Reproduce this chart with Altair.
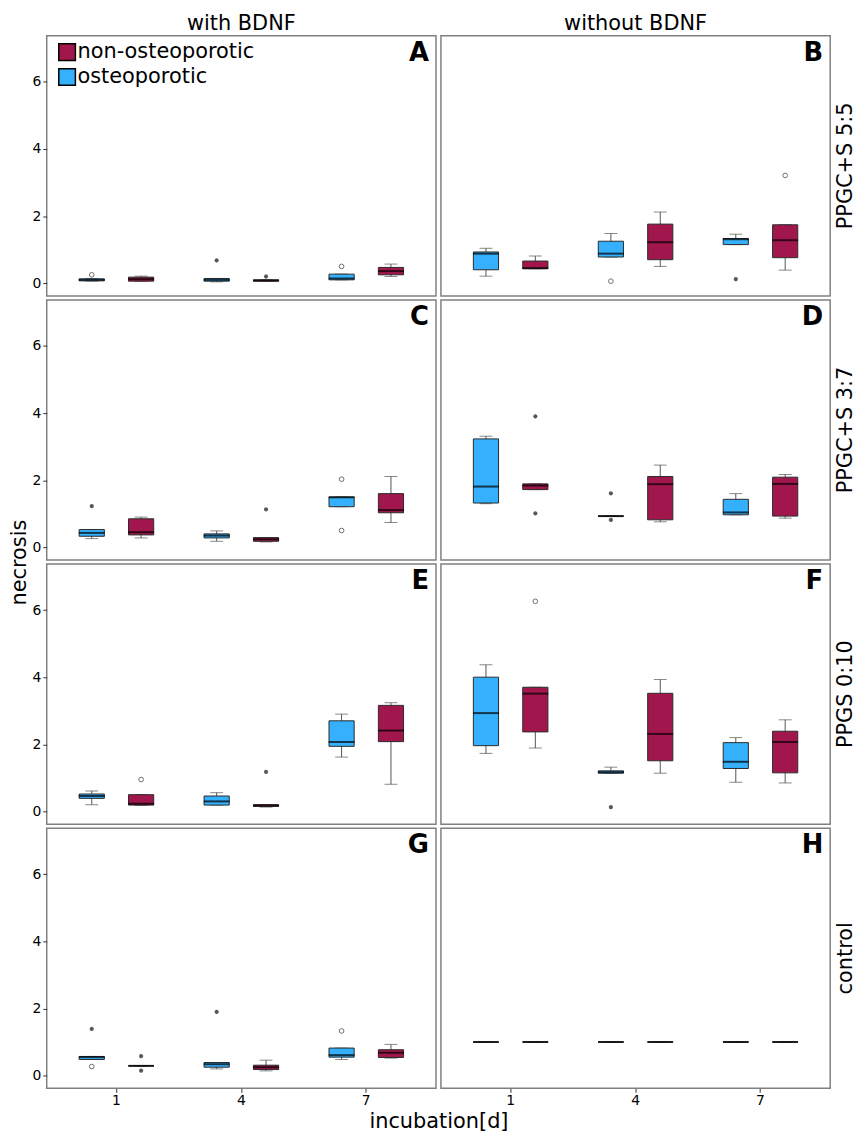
import altair as alt
import pandas as pd

ROWS = ["PPGC+S 5:5", "PPGC+S 3:7", "PPGS 0:10", "control"]
COLS = ["with BDNF", "without BDNF"]
PANELS = ["A", "B", "C", "D", "E", "F", "G", "H"]
DAYS = ["1", "4", "7"]
GROUPS = ["osteoporotic", "non-osteoporotic"]
LEGEND_ORDER = ["non-osteoporotic", "osteoporotic"]
COLORS = ["#a1174d", "#35b0fc"]
Y_TICKS = [0, 2, 4, 6]

# order of the six boxes per panel: d1-osteo, d1-non, d4-osteo, d4-non, d7-osteo, d7-non
LO = {
    "A": [0.06, 0.06, 0.04, 0.06, 0.10, 0.20],
    "B": [0.21, 0.43, 0.78, 0.50, 1.15, 0.39],
    "C": [0.26, 0.28, 0.18, 0.16, 1.21, 0.74],
    "D": [1.30, 1.72, 0.93, 0.76, 0.97, 0.87],
    "E": [0.20, 0.18, 0.19, 0.13, 1.62, 0.81],
    "F": [1.73, 1.89, 1.14, 1.14, 0.87, 0.85],
    "G": [0.48, 0.29, 0.20, 0.14, 0.48, 0.52],
    "H": [1.0, 1.0, 1.0, 1.0, 1.0, 1.0],
}
Q1 = {
    "A": [0.07, 0.06, 0.06, 0.06, 0.10, 0.25],
    "B": [0.40, 0.43, 0.78, 0.70, 1.15, 0.76],
    "C": [0.33, 0.37, 0.28, 0.18, 1.21, 1.03],
    "D": [1.32, 1.72, 0.93, 0.82, 0.97, 0.93],
    "E": [0.39, 0.19, 0.19, 0.15, 1.94, 2.08],
    "F": [1.96, 2.37, 1.14, 1.51, 1.28, 1.15],
    "G": [0.48, 0.29, 0.25, 0.18, 0.55, 0.54],
    "H": [1.0, 1.0, 1.0, 1.0, 1.0, 1.0],
}
MED = {
    "A": [0.10, 0.12, 0.10, 0.08, 0.14, 0.36],
    "B": [0.88, 0.45, 0.88, 1.22, 1.31, 1.28],
    "C": [0.43, 0.45, 0.35, 0.24, 1.49, 1.11],
    "D": [1.81, 1.84, 0.93, 1.88, 1.04, 1.89],
    "E": [0.46, 0.23, 0.30, 0.18, 2.07, 2.41],
    "F": [2.93, 3.51, 1.17, 2.31, 1.48, 2.07],
    "G": [0.55, 0.29, 0.34, 0.25, 0.61, 0.68],
    "H": [1.0, 1.0, 1.0, 1.0, 1.0, 1.0],
}
Q3 = {
    "A": [0.13, 0.18, 0.14, 0.10, 0.27, 0.47],
    "B": [0.93, 0.66, 1.25, 1.76, 1.33, 1.74],
    "C": [0.53, 0.85, 0.40, 0.29, 1.50, 1.60],
    "D": [3.23, 1.89, 0.93, 2.11, 1.43, 2.09],
    "E": [0.52, 0.50, 0.46, 0.20, 2.70, 3.16],
    "F": [4.00, 3.70, 1.21, 3.52, 2.05, 2.39],
    "G": [0.57, 0.29, 0.39, 0.31, 0.82, 0.77],
    "H": [1.0, 1.0, 1.0, 1.0, 1.0, 1.0],
}
HI = {
    "A": [0.14, 0.21, 0.14, 0.10, 0.27, 0.57],
    "B": [1.04, 0.81, 1.48, 2.12, 1.46, 1.74],
    "C": [0.53, 0.90, 0.49, 0.29, 1.50, 2.11],
    "D": [3.31, 1.89, 0.93, 2.45, 1.60, 2.17],
    "E": [0.61, 0.50, 0.56, 0.20, 2.90, 3.24],
    "F": [4.37, 3.70, 1.32, 3.93, 2.20, 2.73],
    "G": [0.57, 0.29, 0.39, 0.46, 0.82, 0.93],
    "H": [1.0, 1.0, 1.0, 1.0, 1.0, 1.0],
}
# outliers: (panel, box index, value, kind)
OUTLIERS = [
    ("A", 0, 0.25, "circle"), ("A", 2, 0.68, "star"), ("A", 3, 0.20, "star"), ("A", 4, 0.50, "circle"),
    ("B", 2, 0.06, "circle"), ("B", 4, 0.12, "star"), ("B", 5, 3.21, "circle"),
    ("C", 0, 1.23, "star"), ("C", 3, 1.13, "star"), ("C", 4, 2.03, "circle"), ("C", 4, 0.50, "circle"),
    ("D", 1, 3.90, "star"), ("D", 1, 1.01, "star"), ("D", 2, 1.61, "star"), ("D", 2, 0.82, "star"),
    ("E", 1, 0.95, "circle"), ("E", 3, 1.18, "star"),
    ("F", 1, 6.26, "circle"), ("F", 2, 0.13, "star"),
    ("G", 0, 1.39, "star"), ("G", 0, 0.27, "circle"), ("G", 1, 0.58, "star"), ("G", 1, 0.15, "star"),
    ("G", 2, 1.90, "star"), ("G", 4, 1.33, "circle"),
]

records = []
for i, p in enumerate(PANELS):
    row, col = ROWS[i // 2], COLS[i % 2]
    records.append(dict(kind="label", panel=p, row=row, col=col))
    for j in range(6):
        records.append(dict(kind="box", panel=p, row=row, col=col,
                            day=DAYS[j // 2], group=GROUPS[j % 2],
                            lo=LO[p][j], q1=Q1[p][j], med=MED[p][j],
                            q3=Q3[p][j], hi=HI[p][j]))
for p, j, v, k in OUTLIERS:
    i = PANELS.index(p)
    records.append(dict(kind=k, panel=p, row=ROWS[i // 2], col=COLS[i % 2],
                        day=DAYS[j // 2], group=GROUPS[j % 2], val=v))
df = pd.DataFrame(records)

W, H = 392, 262
FONT = "DejaVu Sans"
xscale = alt.Scale(domain=DAYS, paddingInner=0, paddingOuter=0.058)
xoff = alt.XOffset("group:N", sort=GROUPS,
                   scale=alt.Scale(paddingInner=0.49, paddingOuter=0.51))
yscale = alt.Scale(domain=[-0.38, 7.37], nice=False, zero=False)


def panel(i):
    p = PANELS[i]
    left, bottom, top, right = i % 2 == 0, i >= 6, i < 2, i % 2 == 1
    if bottom:
        xaxis = alt.Axis(labelAngle=0, grid=False, domain=False, tickSize=4,
                         tickColor="#333333", labelPadding=1, labelFontSize=14,
                         labelFont=FONT, labelColor="black",
                         title="incubation[d]" if p == "G" else None,
                         titleX=W + 2.5, titleFontSize=21, titleFont=FONT,
                         titleFontWeight="normal", titleColor="black", titlePadding=3)
    else:
        xaxis = None
    if left:
        yaxis = alt.Axis(values=Y_TICKS, grid=False, domain=False, tickSize=4,
                         tickColor="#333333", labelPadding=2, labelFontSize=14,
                         labelFont=FONT, labelColor="black",
                         title="necrosis" if p == "C" else None,
                         titleY=H + 2, titleFontSize=21, titleFont=FONT,
                         titleFontWeight="normal", titleColor="black", titlePadding=2)
    else:
        yaxis = None
    X = alt.X("day:O", scale=xscale, axis=xaxis, title=None)

    def Y(field):
        return alt.Y(field, type="quantitative", scale=yscale, axis=yaxis, title=None)

    sub = df[df.panel == p]
    base = alt.Chart(sub)
    boxes = alt.datum.kind == "box"
    legend = (alt.Legend(orient="none", legendX=10, legendY=6, title=None,
                         symbolType="square", symbolSize=280,
                         symbolStrokeColor="black", symbolStrokeWidth=1.5,
                         labelFontSize=21, labelFont=FONT, labelColor="black",
                         labelLimit=0, labelOffset=0, rowPadding=2, padding=0)
              if p == "A" else None)
    layers = [
        base.mark_rule(color="#555555", strokeWidth=1).encode(
            x=X, xOffset=xoff, y=Y("lo"), y2="hi").transform_filter(boxes),
        base.mark_tick(color="#555555", size=13, thickness=1).encode(
            x=X, xOffset=xoff, y=Y("hi")).transform_filter(boxes),
        base.mark_tick(color="#555555", size=13, thickness=1).encode(
            x=X, xOffset=xoff, y=Y("lo")).transform_filter(boxes),
        base.mark_bar(stroke="#2b2b2b", strokeWidth=1).encode(
            x=X, xOffset=xoff, y=Y("q1"), y2="q3",
            color=alt.Color("group:N", scale=alt.Scale(domain=LEGEND_ORDER, range=COLORS),
                            legend=legend)).transform_filter(boxes),
        base.mark_tick(color="black", size=26, thickness=2).encode(
            x=X, xOffset=xoff, y=Y("med")).transform_filter(boxes),
        base.mark_point(shape="circle", filled=False, size=22, color="#333333",
                        strokeWidth=1).encode(
            x=X, xOffset=xoff, y=Y("val")).transform_filter(alt.datum.kind == "circle"),
        base.mark_point(shape="M-1,0L1,0M0,-1L0,1M-0.7,-0.7L0.7,0.7M-0.7,0.7L0.7,-0.7",
                        filled=False, size=18, color="#111111", strokeWidth=1.2).encode(
            x=X, xOffset=xoff, y=Y("val")).transform_filter(alt.datum.kind == "star"),
        base.mark_text(font=FONT, fontSize=26, fontWeight="bold", align="right",
                       baseline="top", color="black").encode(
            text="panel:N", x=alt.value(W - 7), y=alt.value(4)
        ).transform_filter(alt.datum.kind == "label"),
    ]
    if top:
        layers.append(base.mark_text(font=FONT, fontSize=21, align="center",
                                     baseline="alphabetic", color="black").encode(
            text="col:N", x=alt.value(W / 2), y=alt.value(-6)
        ).transform_filter(alt.datum.kind == "label"))
    if right:
        layers.append(base.mark_text(font=FONT, fontSize=21, align="center", angle=270,
                                     baseline="top", color="black").encode(
            text="row:N", x=alt.value(W + 5), y=alt.value(H / 2)
        ).transform_filter(alt.datum.kind == "label"))
    return alt.layer(*layers).properties(width=W, height=H).resolve_scale(color="shared")


chart = alt.concat(*[panel(i) for i in range(8)], columns=2,
                   spacing={"row": 4, "column": 5}, bounds="flush"
                   ).resolve_scale(color="independent").resolve_legend(color="independent"
                   ).properties(padding=0).configure_view(
    stroke="#808080", strokeWidth=1.5
)

chart.save("out.html", embed_options={"renderer": "svg", "actions": False})
